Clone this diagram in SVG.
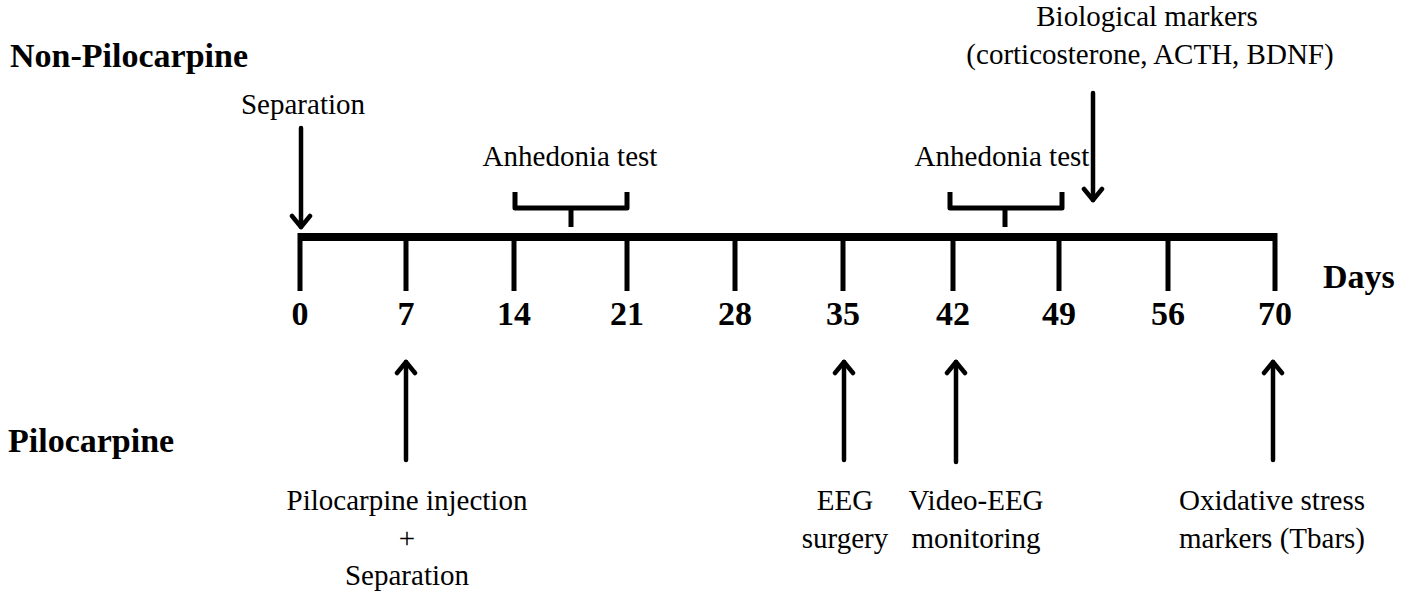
<svg xmlns="http://www.w3.org/2000/svg" width="1412" height="596" viewBox="0 0 1412 596">
<defs>
<style>
.t{font-family:"Liberation Serif","Times New Roman",serif;font-size:29px;fill:#000;text-anchor:middle}
.b{font-family:"Liberation Serif","Times New Roman",serif;font-size:34px;font-weight:bold;fill:#000}
.n{text-anchor:middle}
.ln{stroke:#000;fill:none;stroke-linecap:butt}
.ar{stroke:#000;fill:none;stroke-width:4.5;stroke-linecap:round;stroke-linejoin:round}
</style>
<marker id="ah" viewBox="-14 -12 18 24" refX="0" refY="0" markerWidth="18" markerHeight="24" markerUnits="userSpaceOnUse" orient="auto-start-reverse">
<path d="M-11,-9 L0,0 L-11,9" fill="none" stroke="#000" stroke-width="4.5" stroke-linecap="round" stroke-linejoin="round"/>
</marker>
</defs>
<rect width="1412" height="596" fill="#fff"/>
<g id="labels">
<text class="b" x="10" y="67">Non-Pilocarpine</text>
<text class="b" x="8" y="452">Pilocarpine</text>
<text class="b" x="1323" y="288">Days</text>
</g>
<g id="timeline">
<path class="ln" stroke-width="8" d="M298,237 H1277"/>
<path class="ln" stroke-width="5" d="M300,233 V291 M406,237 V291 M514,237 V291 M627,237 V291 M735,237 V291 M843,237 V291 M953,237 V291 M1059,237 V291 M1168,237 V291 M1275,233 V291"/>
<text class="b n" x="300" y="325">0</text>
<text class="b n" x="406" y="325">7</text>
<text class="b n" x="514" y="325">14</text>
<text class="b n" x="627" y="325">21</text>
<text class="b n" x="735" y="325">28</text>
<text class="b n" x="843" y="325">35</text>
<text class="b n" x="953" y="325">42</text>
<text class="b n" x="1059" y="325">49</text>
<text class="b n" x="1168" y="325">56</text>
<text class="b n" x="1275" y="325">70</text>
</g>
<g id="brace1">
<path class="ln" stroke-width="5" stroke-linejoin="round" d="M515,192 V208 H627 V192 M571,208 V227"/>
<text class="t" x="570" y="166">Anhedonia test</text>
</g>
<g id="brace2">
<path class="ln" stroke-width="5" stroke-linejoin="round" d="M950,192 V208 H1062 V192 M1005,208 V227"/>
<text class="t" x="1002" y="166">Anhedonia test</text>
</g>
<g id="separation">
<text class="t" x="303" y="114">Separation</text>
</g>
<g id="biomarkers">
<text class="t" x="1147" y="26">Biological markers</text>
<text class="t" x="1150" y="64">(corticosterone, ACTH, BDNF)</text>
</g>
<g id="injection">
<text class="t" x="407" y="510">Pilocarpine injection</text>
<text class="t" x="407" y="548">+</text>
<text class="t" x="407" y="585">Separation</text>
</g>
<g id="eeg-surgery">
<text class="t" x="845" y="510">EEG</text>
<text class="t" x="845" y="548">surgery</text>
</g>
<g id="video-eeg">
<text class="t" x="976" y="510">Video-EEG</text>
<text class="t" x="976" y="548">monitoring</text>
</g>
<g id="oxidative">
<text class="t" x="1272" y="510">Oxidative stress</text>
<text class="t" x="1272" y="548">markers (Tbars)</text>
</g>
<g id="connectors">
<path class="ar" d="M301,128 V227" marker-end="url(#ah)"/>
<path class="ar" d="M1093,93 V200" marker-end="url(#ah)"/>
<path class="ar" d="M406,460 V362" marker-end="url(#ah)"/>
<path class="ar" d="M844,460 V362" marker-end="url(#ah)"/>
<path class="ar" d="M956,462 V362" marker-end="url(#ah)"/>
<path class="ar" d="M1273,460 V362" marker-end="url(#ah)"/>
</g>
</svg>
